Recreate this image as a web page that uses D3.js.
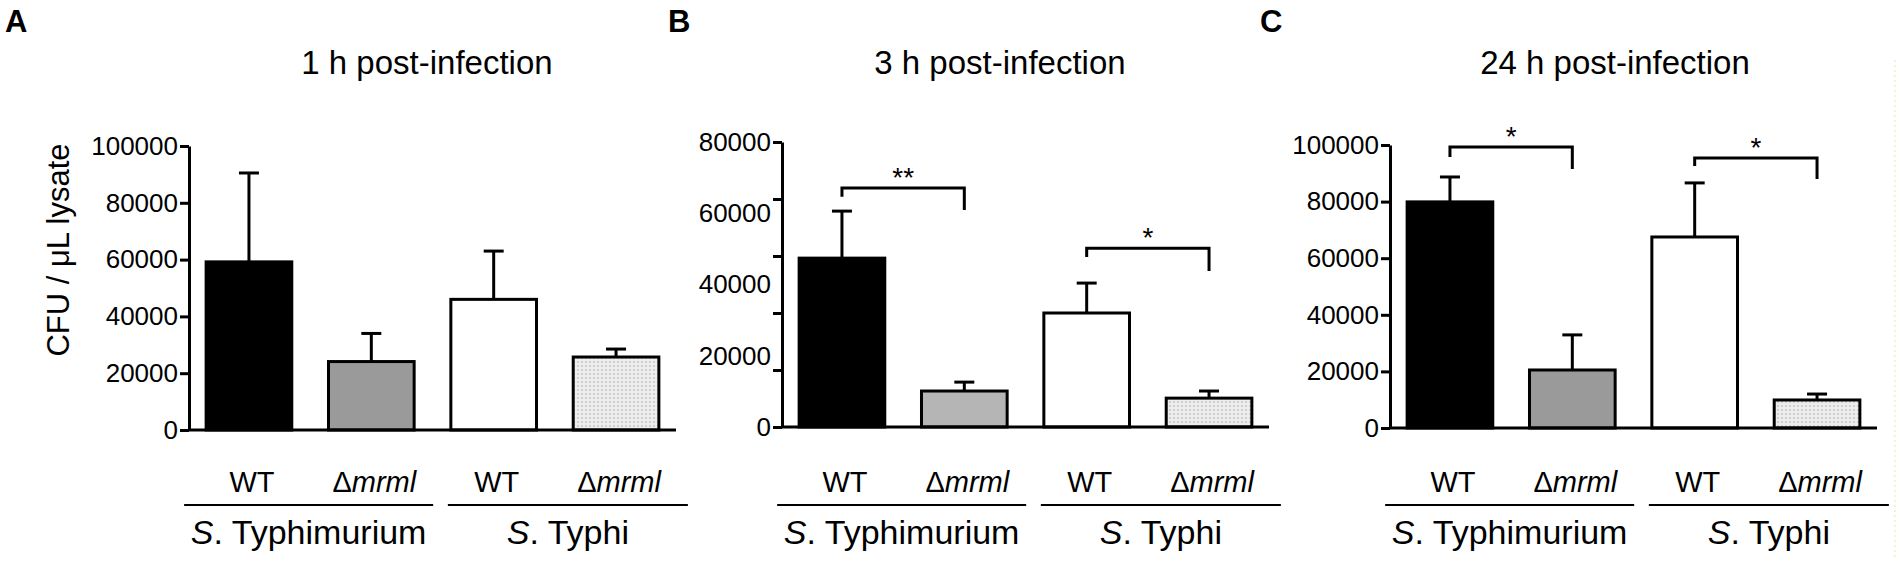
<!DOCTYPE html>
<html>
<head>
<meta charset="utf-8">
<script src="https://cdn.jsdelivr.net/npm/d3@7"></script>
<style>
  body { margin: 0; background: #fff; }
  svg { display: block; font-family: "Liberation Sans", Arial, sans-serif; }
</style>
</head>
<body>
<div id="vis"></div>
<script>
// values (CFU / uL lysate, mean and upper error)
const panelLetters = ["A", "B", "C"];
const titles = ["1 h post-infection", "3 h post-infection", "24 h post-infection"];
const bars = ["STm WT", "STm mrml", "STy WT", "STy mrml"];
const strainLabels = ["WT", "mrml", "WT", "mrml"];
const species = ["Typhimurium", "Typhi"];

const means = [
  [59200, 24100, 46000, 25700],
  [47400, 10100, 32000, 8100],
  [79900, 20500, 67500, 9900]
];
const errors = [
  [31300, 9900, 17000, 2800],
  [13200, 2500, 8400, 2000],
  [8800, 12400, 19100, 2100]
];

const yMax = [100000, 80000, 100000];
const labelTicks = [
  [0, 20000, 40000, 60000, 80000, 100000],
  [0, 20000, 40000, 60000, 80000],
  [0, 20000, 40000, 60000, 80000, 100000]
];
// panel B's tick marks do not sit on its labels in the original
const markTicks = [
  [0, 20000, 40000, 60000, 80000, 100000],
  [0, 16000, 32000, 48000, 64000, 80000],
  [0, 20000, 40000, 60000, 80000, 100000]
];

// significance brackets: bar indices, bracket level, leg ends, label
const brackets = [
  [],
  [{a: 0, b: 1, y: 67100, la: 64600, lb: 60900, text: "**"},
   {a: 2, b: 3, y: 50200, la: 47700, lb: 43800, text: "*"}],
  [{a: 0, b: 1, y: 99300, la: 95800, lb: 91500, text: "*"},
   {a: 2, b: 3, y: 95400, la: 92600, lb: 88000, text: "*"}]
];

const width = 1902;
const height = 567;
const plotW = 487;

const layout = [
  {left: 189, top: 146, zero: 430, title: 238, letter: 5},
  {left: 782, top: 142, zero: 427, title: 218, letter: 668},
  {left: 1390, top: 145, zero: 428, title: 225, letter: 1260}
];
const fills = [
  ["#000", "#9a9a9a", "#fff", "url(#stipple)"],
  ["#000", "#b5b5b5", "#fff", "url(#stipple)"],
  ["#000", "#9a9a9a", "#fff", "url(#stipple)"]
];

const svg = d3.select("#vis")
  .append("svg")
  .attr("width", width)
  .attr("height", height);

const pat = svg.append("defs").append("pattern")
  .attr("id", "stipple")
  .attr("patternUnits", "userSpaceOnUse")
  .attr("width", 4)
  .attr("height", 4);
pat.append("rect").attr("width", 4).attr("height", 4).attr("fill", "#ededed");
pat.append("rect").attr("x", 1).attr("y", 1).attr("width", 2).attr("height", 2).attr("fill", "#cfcfcf");

function drawPanel(i) {
  const L = layout[i];
  const g = svg.append("g");

  const x = d3.scaleBand()
    .domain(bars)
    .range([L.left, L.left + plotW])
    .paddingInner(0.3)
    .paddingOuter(0.14);
  const y = d3.scaleLinear()
    .domain([0, yMax[i]])
    .range([L.zero, L.top]);
  const bw = x.bandwidth();
  const cx = d => x(d) + bw / 2;

  const rows = bars.map((b, j) => ({bar: b, mean: means[i][j], err: errors[i][j], fill: fills[i][j]}));

  // error bars (upper only)
  const eb = g.append("g")
    .attr("stroke", "#000")
    .attr("stroke-width", 3)
    .selectAll("g")
    .data(rows)
    .join("g");
  eb.append("line")
    .attr("x1", d => cx(d.bar)).attr("x2", d => cx(d.bar))
    .attr("y1", d => y(d.mean)).attr("y2", d => y(d.mean + d.err));
  eb.append("line")
    .attr("x1", d => cx(d.bar) - 10).attr("x2", d => cx(d.bar) + 10)
    .attr("y1", d => y(d.mean + d.err)).attr("y2", d => y(d.mean + d.err));

  g.append("g")
    .selectAll("rect")
    .data(rows)
    .join("rect")
      .attr("x", d => x(d.bar))
      .attr("y", d => y(d.mean))
      .attr("width", bw)
      .attr("height", d => y(0) - y(d.mean))
      .attr("fill", d => d.fill)
      .attr("stroke", "#000")
      .attr("stroke-width", 3);

  // axes
  g.append("line")
    .attr("x1", x.range()[0]).attr("x2", x.range()[1])
    .attr("y1", y(0)).attr("y2", y(0))
    .attr("stroke", "#000")
    .attr("stroke-width", 3);

  g.append("g")
    .attr("transform", `translate(${L.left},0)`)
    .call(d3.axisLeft(y).tickValues(markTicks[i]).tickSize(9).tickSizeOuter(0).tickFormat(""))
    .call(a => a.selectAll("path, line").attr("stroke", "#000").attr("stroke-width", 3));

  g.append("g")
    .attr("transform", `translate(${L.left},0)`)
    .call(d3.axisLeft(y).tickValues(labelTicks[i]).tickSize(0).tickPadding(11).tickFormat(d3.format("d")))
    .call(a => a.select(".domain").remove())
    .call(a => a.attr("font-family", null).attr("font-size", null))
    .call(a => a.selectAll("text").attr("font-size", 26).attr("fill", "#000"));

  // significance brackets
  const br = g.append("g")
    .selectAll("g")
    .data(brackets[i])
    .join("g");
  br.append("path")
    .attr("fill", "none")
    .attr("stroke", "#000")
    .attr("stroke-width", 3)
    .attr("d", d => `M${cx(bars[d.a])},${y(d.la)}V${y(d.y)}H${cx(bars[d.b])}V${y(d.lb)}`);
  br.append("text")
    .attr("x", d => (cx(bars[d.a]) + cx(bars[d.b])) / 2)
    .attr("y", d => y(d.y) - 1)
    .attr("text-anchor", "middle")
    .attr("font-size", 28)
    .text(d => d.text);

  // strain labels
  const lab = g.append("g")
    .attr("font-size", 29)
    .attr("text-anchor", "middle")
    .selectAll("text")
    .data(bars)
    .join("text")
      .attr("x", d => cx(d) + 3)
      .attr("y", 492);
  lab.each(function(d, j) {
    const t = d3.select(this);
    if (strainLabels[j] == "WT") {
      t.text("WT");
    } else {
      t.append("tspan").text("Δ");
      t.append("tspan").attr("font-style", "italic").text(strainLabels[j]);
    }
  });

  // species groups
  const groups = [
    [x(bars[0]) - 22, x(bars[1]) + bw + 19],
    [x(bars[2]) - 3, x(bars[3]) + bw + 29]
  ];
  groups.forEach((r, k) => {
    g.append("line")
      .attr("x1", r[0]).attr("x2", r[1])
      .attr("y1", 505).attr("y2", 505)
      .attr("stroke", "#000")
      .attr("stroke-width", 2);
    const t = g.append("text")
      .attr("x", (r[0] + r[1]) / 2)
      .attr("y", 544)
      .attr("text-anchor", "middle")
      .attr("font-size", 34);
    t.append("tspan").attr("font-style", "italic").text("S");
    t.append("tspan").text(". " + species[k]);
  });

  g.append("text")
    .attr("x", L.left + L.title)
    .attr("y", 74)
    .attr("text-anchor", "middle")
    .attr("font-size", 33)
    .text(titles[i]);

  g.append("text")
    .attr("x", L.letter)
    .attr("y", 32)
    .attr("font-size", 31)
    .attr("font-weight", "bold")
    .text(panelLetters[i]);
}

for (let i = 0; i < 3; i++) drawPanel(i);

svg.append("text")
  .attr("transform", "translate(69,250) rotate(-90)")
  .attr("text-anchor", "middle")
  .attr("font-size", 31)
  .text("CFU / μL lysate");

// faint dotted edge line at the right of the original
svg.append("line")
  .attr("x1", 1895).attr("x2", 1895)
  .attr("y1", 60).attr("y2", 560)
  .attr("stroke", "#efe6a0")
  .attr("stroke-width", 1)
  .attr("stroke-dasharray", "2,3");
</script>
</body>
</html>
